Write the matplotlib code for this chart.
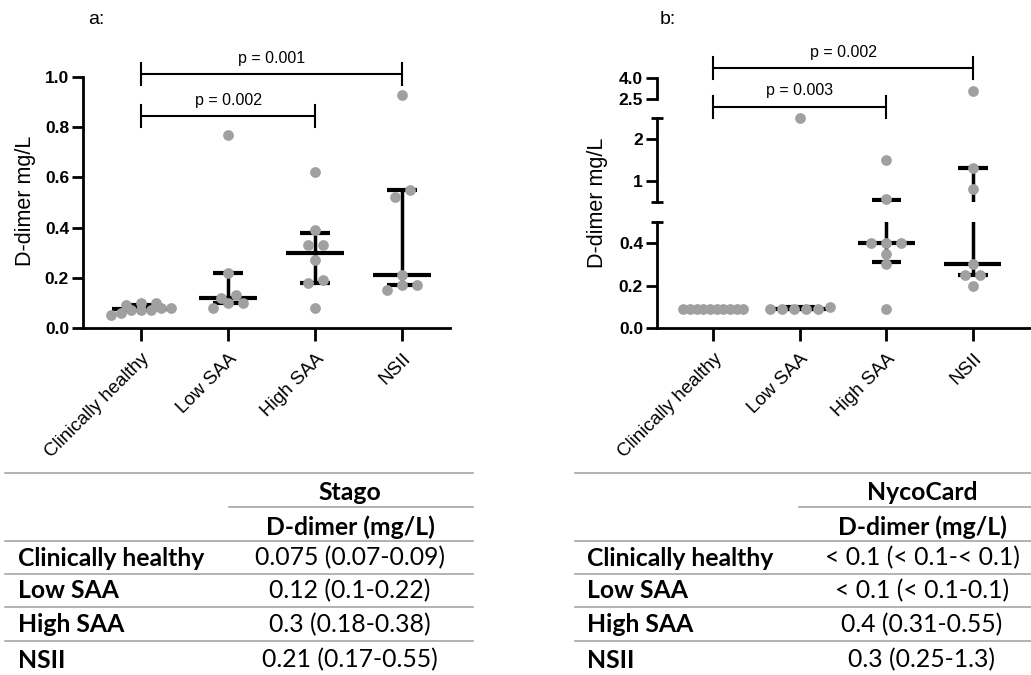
import matplotlib
matplotlib.use("Agg")
import matplotlib.pyplot as plt
import numpy as np
from matplotlib import transforms
from matplotlib.lines import Line2D

plt.rcParams["font.family"] = ["Liberation Sans", "DejaVu Sans"]

groups = ["Clinically healthy", "Low SAA", "High SAA", "NSII"]

# panel a: Stago
stago_values = [
    [0.08, 0.10, 0.06, 0.07, 0.07, 0.08, 0.07, 0.05, 0.09, 0.10],
    [0.77, 0.22, 0.12, 0.08, 0.13, 0.10, 0.10],
    [0.62, 0.39, 0.33, 0.33, 0.27, 0.19, 0.18, 0.08],
    [0.93, 0.55, 0.52, 0.21, 0.17, 0.17, 0.15],
]
stago_median = [0.075, 0.12, 0.30, 0.21]
stago_q1 = [0.07, 0.10, 0.18, 0.17]
stago_q3 = [0.09, 0.22, 0.38, 0.55]

# panel b: NycoCard
nyco_values = [
    [0.09, 0.09, 0.09, 0.09, 0.09, 0.09, 0.09, 0.09, 0.09, 0.09],
    [2.5, 0.10, 0.09, 0.09, 0.09, 0.09, 0.09],
    [1.5, 0.57, 0.40, 0.40, 0.40, 0.35, 0.30, 0.09],
    [3.1, 1.3, 0.8, 0.30, 0.25, 0.25, 0.20],
]
nyco_median = [0.09, 0.09, 0.40, 0.30]
nyco_q1 = [0.09, 0.09, 0.31, 0.25]
nyco_q3 = [0.09, 0.10, 0.55, 1.30]

stago_pvals = [(0, 3, "p = 0.001"), (0, 2, "p = 0.002")]
nyco_pvals = [(0, 3, "p = 0.002"), (0, 2, "p = 0.003")]

stago_table = ["0.075 (0.07-0.09)", "0.12 (0.1-0.22)", "0.3 (0.18-0.38)", "0.21 (0.17-0.55)"]
nyco_table = ["< 0.1 (< 0.1-< 0.1)", "< 0.1 (< 0.1-0.1)", "0.4 (0.31-0.55)", "0.3 (0.25-1.3)"]

W, H = 1031, 675
fig = plt.figure(figsize=(W / 100, H / 100), dpi=100)


def fx(px):
    return px / W


def fy(py):
    return 1 - py / H


def new_axes(x0, x1, ytop, ybot):
    return fig.add_axes([fx(x0), fy(ybot), fx(x1 - x0), (ybot - ytop) / H])


POINT = "#a0a0a0"
LW = 2.0


def style(ax, bottom=True):
    for s in ["top", "right"]:
        ax.spines[s].set_visible(False)
    ax.spines["left"].set_linewidth(LW)
    ax.spines["bottom"].set_linewidth(LW)
    ax.spines["bottom"].set_visible(bottom)
    ax.tick_params(axis="y", length=8, width=LW, labelsize=12.5, pad=2)
    if bottom:
        ax.set_xticks(range(4))
        ax.set_xticklabels(groups, rotation=45, ha="right", rotation_mode="anchor", fontsize=13.5)
        ax.tick_params(axis="x", length=9, width=LW, pad=7)
    else:
        ax.set_xticks([])


def swarm_offsets(y_px, px_per_x, tol=9, step=15, maxw=60):
    y_px = np.asarray(y_px)
    order = np.argsort(y_px, kind="stable")
    offs = np.zeros(len(y_px))
    bins = []
    cur = [order[0]]
    for k in order[1:]:
        if y_px[k] - y_px[cur[0]] > tol:
            bins.append(cur)
            cur = [k]
        else:
            cur.append(k)
    bins.append(cur)
    for b in bins:
        n = len(b)
        if n > 1:
            sp = min(step, maxw / (n - 1))
            for j, k in enumerate(b):
                offs[k] = (j - (n - 1) / 2) * sp
    return offs / px_per_x


def summary_lines(ax, med, q1, q3):
    for i in range(4):
        ax.hlines(med[i], i - 0.33, i + 0.33, color="black", lw=3, zorder=2)
        ax.hlines([q1[i], q3[i]], i - 0.17, i + 0.17, color="black", lw=3, zorder=2)
        ax.vlines(i, q1[i], q3[i], color="black", lw=2.5, zorder=2)


def bracket(ax, x0, x1, yl, yt0, yt1, ytext, label):
    tr = transforms.blended_transform_factory(ax.transData, fig.transFigure)
    ax.plot([x0, x1], [fy(yl), fy(yl)], color="black", lw=1.5, transform=tr, clip_on=False)
    for x in (x0, x1):
        ax.plot([x, x], [fy(yt0), fy(yt1)], color="black", lw=1.5, transform=tr, clip_on=False)
    ax.text((x0 + x1) / 2, fy(ytext), label, transform=tr, ha="center", va="center", fontsize=11.5)


# ---------- panel a ----------
axa = new_axes(83, 450, 77, 328)
axa.set_xlim(-0.667, 3.55)
axa.set_ylim(0, 1.0)
axa.set_yticks([0, 0.2, 0.4, 0.6, 0.8, 1.0])
axa.set_yticklabels(["0.0", "0.2", "0.4", "0.6", "0.8", "1.0"], fontweight="bold")
style(axa)
summary_lines(axa, stago_median, stago_q1, stago_q3)
ppx = axa.transData.transform((1, 0))[0] - axa.transData.transform((0, 0))[0]
for i, vals in enumerate(stago_values):
    ypx = axa.transData.transform(np.column_stack([np.zeros(len(vals)), vals]))[:, 1]
    off = swarm_offsets(ypx, ppx)
    axa.scatter(i + off, vals, s=60, color=POINT, zorder=3, clip_on=False, linewidths=0)
bracket(axa, 0, 3, 74, 63, 85, 58, stago_pvals[0][2])
bracket(axa, 0, 2, 116, 105, 127, 100, stago_pvals[1][2])
fig.text(fx(96), fy(19), "a:", ha="center", va="center", fontsize=14)
fig.text(fx(25), fy(201), "D-dimer mg/L", rotation=90, ha="center", va="center", fontsize=15.5)

# ---------- panel b (broken y axis) ----------
xl = (-0.65, 3.66)
segs = [(0.0, 0.5, 222, 328), (0.5, 2.5, 118, 202), (2.5, 4.0, 78, 99)]
axes_b = []
for k, (lo, hi, yt, yb) in enumerate(segs):
    ax = new_axes(657, 1030, yt, yb)
    ax.set_xlim(*xl)
    ax.set_ylim(lo, hi)
    style(ax, bottom=(k == 0))
    ax.patch.set_alpha(0)
    axes_b.append(ax)
axes_b[0].set_yticks([0, 0.2, 0.4])
axes_b[0].set_yticklabels(["0.0", "0.2", "0.4"], fontweight="bold")
axes_b[1].set_yticks([1, 2])
axes_b[1].set_yticklabels(["1", "2"], fontweight="bold")
axes_b[2].set_yticks([2.5, 4.0])
axes_b[2].set_yticklabels(["2.5", "4.0"], fontweight="bold")

# end caps of the broken segments
for ax, ends in [(axes_b[0], [1]), (axes_b[1], [0, 1])]:
    wpx = ax.get_position().width * W
    for e in ends:
        ax.plot([-6 / wpx, 6 / wpx], [e, e], color="black", lw=LW, transform=ax.transAxes,
                clip_on=False, solid_capstyle="butt")

for ax in axes_b:
    summary_lines(ax, nyco_median, nyco_q1, nyco_q3)


def seg_index(v):
    if v <= 0.5:
        return 0
    if v <= 2.5:
        return 1
    return 2


ppx = axes_b[0].transData.transform((1, 0))[0] - axes_b[0].transData.transform((0, 0))[0]
for i, vals in enumerate(nyco_values):
    idx = [seg_index(v) for v in vals]
    ypx = [axes_b[s].transData.transform((0, v))[1] for s, v in zip(idx, vals)]
    off = swarm_offsets(ypx, ppx)
    for s, v, o in zip(idx, vals, off):
        axes_b[s].scatter(i + o, v, s=60, color=POINT, zorder=3, clip_on=False, linewidths=0)

bracket(axes_b[0], 0, 3, 68, 57, 79, 52, nyco_pvals[0][2])
bracket(axes_b[0], 0, 2, 107, 96, 118, 91, nyco_pvals[1][2])
fig.text(fx(668), fy(19), "b:", ha="center", va="center", fontsize=14)
fig.text(fx(598), fy(203), "D-dimer mg/L", rotation=90, ha="center", va="center", fontsize=15.5)


# ---------- tables ----------
def hline(x0, x1, y):
    fig.add_artist(Line2D([fx(x0), fx(x1)], [fy(y), fy(y)], color="#a6a6a6", lw=1.2))


def table(x0, x1, xsub, xlab, xval, header, values):
    tfont = ["Lato", "DejaVu Sans"]
    fs = 17.8
    hline(x0, x1, 473)
    fig.text(fx(xval), fy(493), header, ha="center", va="center", fontsize=fs,
             fontweight="bold", family=tfont)
    hline(xsub, x1, 507)
    fig.text(fx(xval), fy(527), "D-dimer (mg/L)", ha="center", va="center", fontsize=fs,
             fontweight="bold", family=tfont)
    hline(x0, x1, 541)
    rows_y = [558, 591, 625, 660]
    for k, (g, v) in enumerate(zip(groups, values)):
        fig.text(fx(xlab), fy(rows_y[k]), g, ha="left", va="center", fontsize=fs,
                 fontweight="bold", family=tfont)
        fig.text(fx(xval), fy(rows_y[k]), v, ha="center", va="center", fontsize=fs, family=tfont)
        if k < 3:
            hline(x0, x1, rows_y[k] + 16)


table(5, 473, 229, 18, 350, "Stago", stago_table)
table(575, 1031, 799, 587, 922, "NycoCard", nyco_table)

fig.savefig("out.png", dpi=100)
